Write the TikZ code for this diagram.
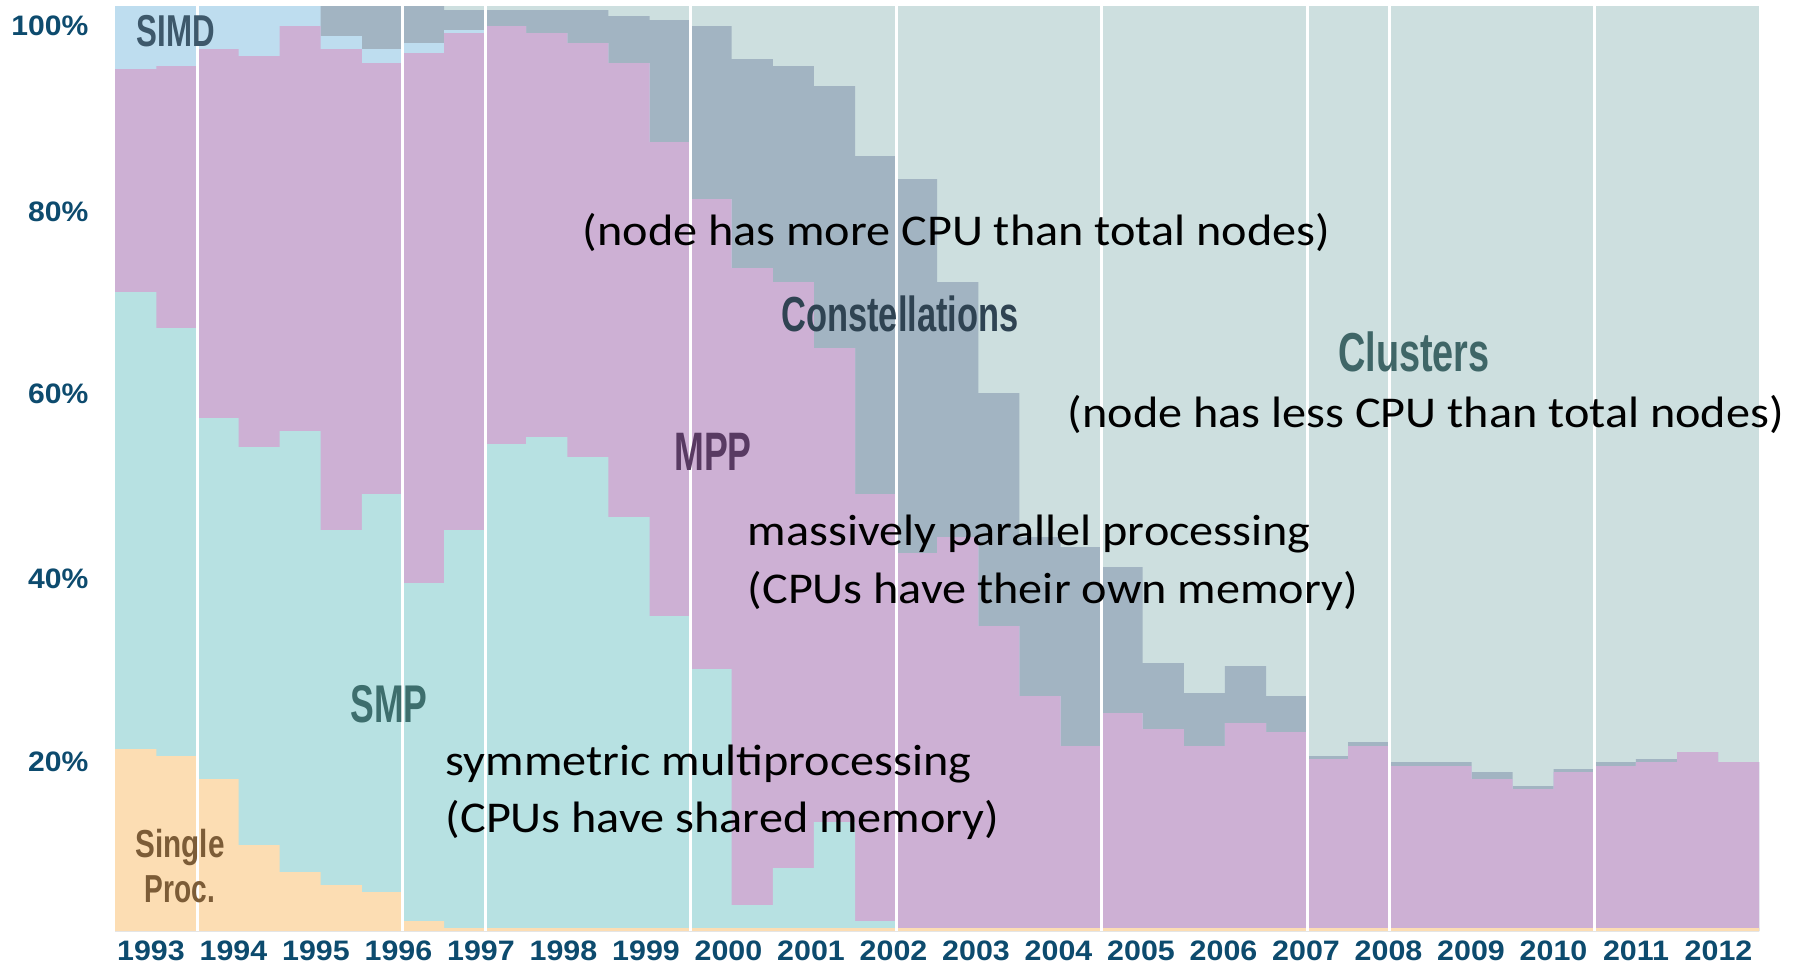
\documentclass[tikz,border=0pt]{standalone}
\usepackage{fontspec}
\setmainfont{Carlito}
\newfontfamily\labelfont{Liberation Sans}

\definecolor{spc}{HTML}{FCDDB3}
\definecolor{smpc}{HTML}{B7E1E2}
\definecolor{mppc}{HTML}{CDB0D4}
\definecolor{simdc}{HTML}{BEDDEF}
\definecolor{constc}{HTML}{A2B4C2}
\definecolor{clusc}{HTML}{CDDFDF}
\definecolor{axisc}{HTML}{0D4B6E}
\definecolor{simdt}{HTML}{3D586B}
\definecolor{constt}{HTML}{2F4352}
\definecolor{clust}{HTML}{3F6667}
\definecolor{mppt}{HTML}{583A62}
\definecolor{smpt}{HTML}{3D6E6D}
\definecolor{spt}{HTML}{7C5C37}

% bar geometry (1 unit = 1 px)
\def\xo{115.2}
\def\barw{41.1}
\def\xe{1759.2}
\def\ybot{931}

% top edge of each stacked layer, one value per semi-annual list
\def\constTop{0/6,1/6,2/6,3/6,4/6,5/6,6/6,7/6,8/10,9/10,10/10,11/10,12/16,13/20,14/26,15/59,16/66,17/86,18/156,19/179,20/282,21/393,22/537,23/547,24/567,25/663,26/693,27/666,28/696,29/756,30/742,31/762,32/762,33/772,34/786,35/769,36/762,37/759,38/752,39/762}
\def\simdTop{0/6,1/6,2/6,3/6,4/6,5/36,6/49,7/43,8/30,9/26,10/33,11/43,12/63,13/142,14/199,15/268,16/282,17/348,18/494,19/553,20/537,21/626,22/696,23/746,24/713,25/729,26/746,27/723,28/732,29/759,30/746,31/766,32/766,33/779,34/789,35/772,36/766,37/762,38/752,39/762}
\def\mppTop{0/69,1/66,2/49,3/56,4/26,5/49,6/63,7/53,8/33,9/26,10/33,11/43,12/63,13/142,14/199,15/268,16/282,17/348,18/494,19/553,20/537,21/626,22/696,23/746,24/713,25/729,26/746,27/723,28/732,29/759,30/746,31/766,32/766,33/779,34/789,35/772,36/766,37/762,38/752,39/762}
\def\smpTop{0/292,1/328,2/418,3/447,4/431,5/530,6/494,7/583,8/530,9/444,10/437,11/457,12/517,13/616,14/669,15/905,16/868,17/822,18/921,19/928,20/928,21/928,22/928,23/928,24/928,25/928,26/928,27/928,28/928,29/928,30/928,31/928,32/928,33/928,34/928,35/928,36/928,37/928,38/928,39/928}
\def\spTop{0/749,1/756,2/779,3/845,4/872,5/885,6/892,7/921,8/928,9/928,10/928,11/928,12/928,13/928,14/928,15/928,16/928,17/928,18/928,19/928,20/928,21/928,22/928,23/928,24/928,25/928,26/928,27/928,28/928,29/928,30/928,31/928,32/928,33/928,34/928,35/928,36/928,37/928,38/928,39/928}

\newcommand\layer[2]{%
  \fill[#1] (\xo,\ybot) \foreach \i/\v in #2 {
      -- ({\xo+\barw*\i},\v) -- ({\xo+\barw*(\i+1)},\v) } -- (\xe,\ybot) -- cycle;}

\tikzset{
  lab/.style={inner sep=0pt, font=\labelfont\bfseries},
  note/.style={inner sep=0pt, anchor=base west, text=black},
  axislab/.style={inner sep=0pt, font=\labelfont\bfseries\fontsize{8}{9}\selectfont, text=axisc},
}

\newcommand\notetext[1]{\scalebox{1.097}[1]{\fontsize{12.5}{15}\selectfont #1}}

\begin{document}
\begin{tikzpicture}[x=0.01cm,y=-0.01cm]
\useasboundingbox (0,0) rectangle (1797,966);
\fill[white] (0,0) rectangle (1797,966);

% stacked step areas, drawn from the top layer downwards
\fill[clusc] (\xo,6) rectangle (\xe,\ybot);
\layer{constc}{\constTop}
\layer{simdc}{\simdTop}
\layer{mppc}{\mppTop}
\layer{smpc}{\smpTop}
\layer{spc}{\spTop}

% white separators
\foreach \k in {2,7,9,14,19,24,29,31,36}
  \draw[white, line width=0.03cm] ({\xo+\barw*\k},6) -- ({\xo+\barw*\k},\ybot);

% y axis
\foreach \p/\y in {100/26,80/212,60/394,40/579,20/762}
  \node[axislab, anchor=east] (y\p) at (89,\y) {\scalebox{1.07}[1]{\p\%}};

% x axis
\foreach \k in {0,...,19}{
  \pgfmathtruncatemacro\yr{1993+\k}
  \node[axislab] (x\yr) at ({151+82.5*\k},951) {\scalebox{1.08}[1]{\yr}};
}

% category labels
\node[lab, text=simdt] (simd) at (176,31) {\scalebox{0.70}[1]{\fontsize{12.7}{14}\selectfont SIMD}};
\node[lab, text=constt] (const) at (900,314) {\scalebox{0.70}[1]{\fontsize{14}{16}\selectfont Constellations}};
\node[lab, text=clust] (clus) at (1414,352) {\scalebox{0.69}[1]{\fontsize{15.6}{17}\selectfont Clusters}};
\node[lab, text=mppt] (mpp) at (713,452) {\scalebox{0.66}[1]{\fontsize{15.4}{17}\selectfont MPP}};
\node[lab, text=smpt] (smp) at (389,704) {\scalebox{0.67}[1]{\fontsize{15.1}{17}\selectfont SMP}};
\node[lab, text=spt, anchor=base] (sp1) at (180,857) {\scalebox{0.76}[1]{\fontsize{11.1}{13}\selectfont Single}};
\node[lab, text=spt, anchor=base] (sp2) at (180,902) {\scalebox{0.72}[1]{\fontsize{11.1}{13}\selectfont Proc.}};

% explanatory notes
\node[note] (n1) at (582,245) {\notetext{(node has more CPU than total nodes)}};
\node[note] (n2) at (1067,427) {\notetext{(node has less CPU than total nodes)}};
\node[note] (n3) at (747,545) {\notetext{massively parallel processing}};
\node[note] (n4) at (747,603) {\notetext{(CPUs have their own memory)}};
\node[note] (n5) at (445,775) {\notetext{symmetric multiprocessing}};
\node[note] (n6) at (445,832) {\notetext{(CPUs have shared memory)}};
\end{tikzpicture}
\end{document}
